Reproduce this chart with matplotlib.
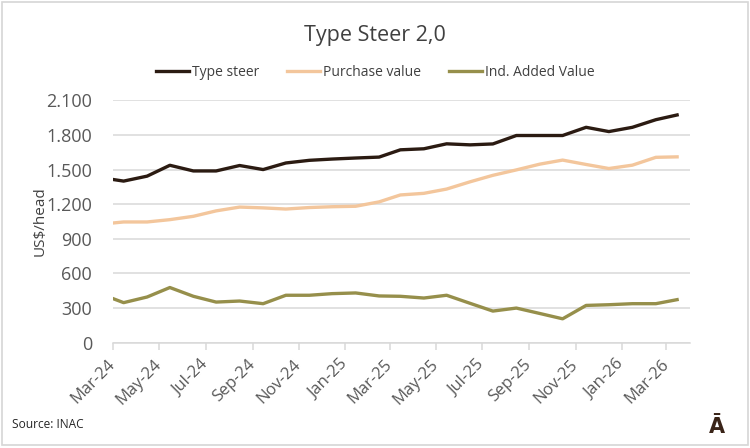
import matplotlib
matplotlib.use("Agg")
import matplotlib.pyplot as plt
import matplotlib.dates as mdates
from matplotlib.ticker import FuncFormatter, MultipleLocator
from matplotlib.patches import Rectangle
import pandas as pd

plt.rcParams['font.family'] = ['Open Sans', 'DejaVu Sans']

# data (US$/head)
dates = ["2024-03-01", "2024-03-15", "2024-04-15", "2024-05-15", "2024-06-15",
         "2024-07-15", "2024-08-15", "2024-09-15", "2024-10-15", "2024-11-15",
         "2024-12-15", "2025-01-15", "2025-02-15", "2025-03-15", "2025-04-15",
         "2025-05-15", "2025-06-15", "2025-07-15", "2025-08-15", "2025-09-15",
         "2025-10-15", "2025-11-15", "2025-12-15", "2026-01-15", "2026-02-15",
         "2026-03-15"]
type_steer = [1414, 1400, 1443, 1537, 1488, 1488, 1535, 1500, 1557, 1580,
              1591, 1600, 1608, 1671, 1680, 1723, 1714, 1722, 1795, 1795,
              1795, 1866, 1829, 1866, 1932, 1973]
purchase_value = [1037, 1046, 1046, 1066, 1095, 1142, 1175, 1168, 1158, 1171,
                  1178, 1182, 1220, 1280, 1294, 1331, 1394, 1450, 1497, 1547,
                  1582, 1544, 1509, 1538, 1606, 1610]
added_value = [382, 347, 396, 478, 402, 352, 361, 338, 411, 411,
               425, 431, 405, 402, 387, 411, 341, 274, 300, 253,
               207, 323, 329, 338, 338, 373]

x = pd.to_datetime(dates)

c_steer = '#2b1b12'
c_purchase = '#f3c69c'
c_added = '#968f4b'
c_grid = '#d9d9d9'
c_text = '#595959'

fig = plt.figure(figsize=(7.5, 4.48), dpi=100)
ax = fig.add_axes([113 / 750, 1 - 342.7 / 448, (690 - 113) / 750, (342.7 - 100.3) / 448])

ax.plot(x, type_steer, color=c_steer, lw=2.4, label='Type steer', solid_joinstyle='round')
ax.plot(x, purchase_value, color=c_purchase, lw=2.4, label='Purchase value', solid_joinstyle='round')
ax.plot(x, added_value, color=c_added, lw=2.4, label='Ind. Added Value', solid_joinstyle='round')

ax.set_ylim(0, 2100)
ax.set_xlim(pd.Timestamp("2024-03-01"), pd.Timestamp("2026-04-01"))
ax.yaxis.set_major_locator(MultipleLocator(300))
ax.yaxis.set_major_formatter(FuncFormatter(lambda v, p: f"{v:,.0f}".replace(",", ".")))
ax.xaxis.set_major_locator(mdates.MonthLocator(bymonth=(1, 3, 5, 7, 9, 11)))
ax.xaxis.set_major_formatter(mdates.DateFormatter('%b-%y'))

ax.grid(axis='y', color=c_grid, lw=1.1)
ax.set_axisbelow(True)
for s in ['top', 'right', 'left']:
    ax.spines[s].set_visible(False)
ax.spines['bottom'].set_color(c_grid)
ax.spines['bottom'].set_linewidth(1.1)

ax.tick_params(axis='y', length=0, pad=15, labelsize=13, labelcolor=c_text)
ax.tick_params(axis='x', length=5, width=1.1, color=c_grid, pad=9, labelsize=12, labelcolor=c_text)
for lab in ax.get_xticklabels():
    lab.set_rotation(45)
    lab.set_ha('right')
    lab.set_va('center')
    lab.set_rotation_mode('anchor')

ax.set_ylabel('US$/head', fontsize=11, color='#404040')
ax.yaxis.set_label_coords(-0.113, 0.5)

fig.text(0.5, 1 - 35 / 448, 'Type Steer 2,0', ha='center', va='center', fontsize=15.5, color='#404040')
fig.legend(loc='center', bbox_to_anchor=(0.5, 1 - 72 / 448), ncol=3, frameon=False,
           fontsize=10, handlelength=2.4, handletextpad=0.2, columnspacing=2.0,
           labelcolor='#404040')

fig.text(12 / 750, 1 - 424 / 448, 'Source: INAC', ha='left', va='center', fontsize=8.6, color='#262626')
fig.text(717 / 750, 1 - 433 / 448, 'Ā', ha='center', va='baseline', fontsize=15,
         fontweight='bold', color='#3a2418', family='DejaVu Sans')

# thin frame round the whole picture
fig.patches.append(Rectangle((1.5 / 750, 3 / 448), 746 / 750, 443 / 448, transform=fig.transFigure,
                             fill=False, edgecolor='#d6d6d6', lw=1.2))

fig.savefig('out.png', dpi=100)
